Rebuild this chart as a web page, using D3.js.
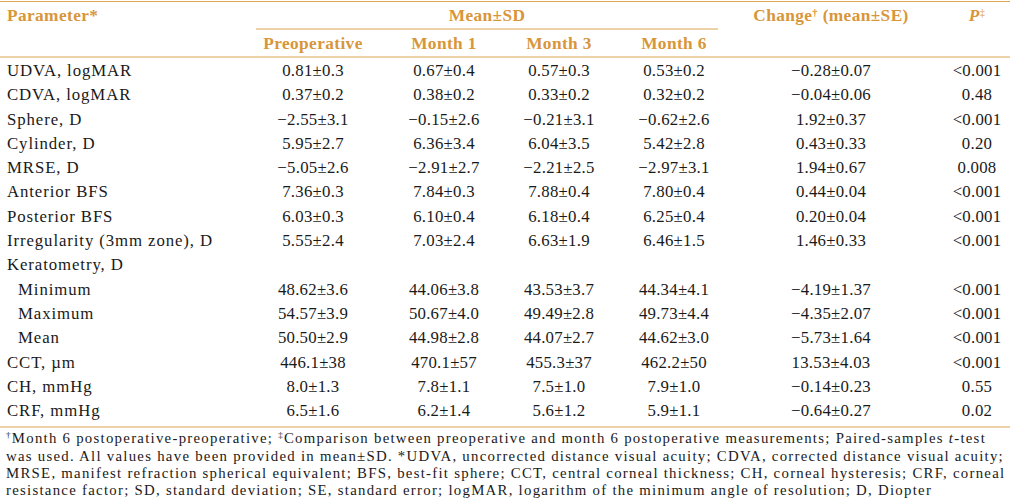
<!DOCTYPE html>
<html>
<head>
<meta charset="utf-8">
<script src="https://cdn.jsdelivr.net/npm/d3@7"></script>
<style>
  html, body { margin: 0; padding: 0; background: #ffffff; }
  svg { display: block; }
  text { font-family: "Liberation Serif", "Times New Roman", serif; }
</style>
</head>
<body>
<div id="chart"></div>
<script>
// ---- data ----
const parameters = ["UDVA, logMAR", "CDVA, logMAR", "Sphere, D", "Cylinder, D", "MRSE, D",
  "Anterior BFS", "Posterior BFS", "Irregularity (3mm zone), D", "Keratometry, D",
  "Minimum", "Maximum", "Mean", "CCT, µm", "CH, mmHg", "CRF, mmHg"];
const indented = [false, false, false, false, false, false, false, false, false,
  true, true, true, false, false, false];
const preoperative = ["0.81±0.3", "0.37±0.2", "−2.55±3.1", "5.95±2.7", "−5.05±2.6",
  "7.36±0.3", "6.03±0.3", "5.55±2.4", "", "48.62±3.6", "54.57±3.9", "50.50±2.9",
  "446.1±38", "8.0±1.3", "6.5±1.6"];
const month1 = ["0.67±0.4", "0.38±0.2", "−0.15±2.6", "6.36±3.4", "−2.91±2.7",
  "7.84±0.3", "6.10±0.4", "7.03±2.4", "", "44.06±3.8", "50.67±4.0", "44.98±2.8",
  "470.1±57", "7.8±1.1", "6.2±1.4"];
const month3 = ["0.57±0.3", "0.33±0.2", "−0.21±3.1", "6.04±3.5", "−2.21±2.5",
  "7.88±0.4", "6.18±0.4", "6.63±1.9", "", "43.53±3.7", "49.49±2.8", "44.07±2.7",
  "455.3±37", "7.5±1.0", "5.6±1.2"];
const month6 = ["0.53±0.2", "0.32±0.2", "−0.62±2.6", "5.42±2.8", "−2.97±3.1",
  "7.80±0.4", "6.25±0.4", "6.46±1.5", "", "44.34±4.1", "49.73±4.4", "44.62±3.0",
  "462.2±50", "7.9±1.0", "5.9±1.1"];
const change = ["−0.28±0.07", "−0.04±0.06", "1.92±0.37", "0.43±0.33", "1.94±0.67",
  "0.44±0.04", "0.20±0.04", "1.46±0.33", "", "−4.19±1.37", "−4.35±2.07", "−5.73±1.64",
  "13.53±4.03", "−0.14±0.23", "−0.64±0.27"];
const pValues = ["<0.001", "0.48", "<0.001", "0.20", "0.008", "<0.001", "<0.001", "<0.001",
  "", "<0.001", "<0.001", "<0.001", "<0.001", "0.55", "0.02"];
const columnKeys = ["preop", "m1", "m3", "m6", "change", "p"];
const subHeaders = ["Preoperative", "Month 1", "Month 3", "Month 6"];
const footnotes = [
  [["†", "sup"], ["Month 6 postoperative-preoperative; ", ""], ["‡", "sup"], ["Comparison between preoperative and month 6 postoperative measurements; Paired-samples ", ""], ["t", "it"], ["-test", ""]],
  [["was used. All values have been provided in mean±SD. *UDVA, uncorrected distance visual acuity; CDVA, corrected distance visual acuity;", ""]],
  [["MRSE, manifest refraction spherical equivalent; BFS, best-fit sphere; CCT, central corneal thickness; CH, corneal hysteresis; CRF, corneal", ""]],
  [["resistance factor; SD, standard deviation; SE, standard error; logMAR, logarithm of the minimum angle of resolution; D, Diopter", ""]]
];

// ---- layout ----
const W = 1010, H = 504;
const gold = "#D8963A", lineGold = "#DDA650", ink = "#1a1a1a";
const svg = d3.select("#chart").append("svg").attr("width", W).attr("height", H);

const colX = d3.scaleOrdinal().domain(columnKeys).range([313, 444, 559, 674, 831, 977]);
const rowY = d3.scaleLinear().domain([0, parameters.length - 1]).range([70, 410.5]);
const footY = d3.scaleLinear().domain([0, footnotes.length - 1]).range([438, 490]);
const bodySize = 16.8, headSize = 17.3;

// rules
const rules = [
  {x1: 0, x2: W, y: 1.5, w: 1.2},
  {x1: 256, x2: 718, y: 29, w: 1.2},
  {x1: 0, x2: W, y: 57, w: 1.2},
  {x1: 0, x2: W, y: 427, w: 1.2}
];
svg.selectAll("line.rule").data(rules).join("line").attr("class", "rule")
  .attr("x1", d => d.x1).attr("x2", d => d.x2).attr("y1", d => d.y).attr("y2", d => d.y)
  .attr("stroke", lineGold).attr("stroke-width", d => d.w);

// header
const hdr = svg.append("g").attr("font-weight", "bold").attr("fill", gold)
  .attr("font-size", headSize).attr("letter-spacing", 0.4);
hdr.append("text").attr("x", 7).attr("y", 15).attr("dy", "0.35em").text("Parameter*");
hdr.append("text").attr("x", 487).attr("y", 15).attr("dy", "0.35em").attr("text-anchor", "middle").text("Mean±SD");
const ch = hdr.append("text").attr("x", colX("change")).attr("y", 15).attr("dy", "0.35em").attr("text-anchor", "middle");
ch.append("tspan").text("Change");
ch.append("tspan").attr("font-size", headSize * 0.6).attr("baseline-shift", "super").text("†");
ch.append("tspan").text(" (mean±SE)");
const ph = hdr.append("text").attr("x", colX("p")).attr("y", 15).attr("dy", "0.35em").attr("text-anchor", "middle");
ph.append("tspan").attr("font-style", "italic").text("P");
ph.append("tspan").attr("font-size", headSize * 0.6).attr("baseline-shift", "super").attr("font-weight", "normal").text("‡");
hdr.selectAll("text.sub").data(subHeaders).join("text").attr("class", "sub")
  .attr("x", (d, i) => colX(columnKeys[i])).attr("y", 43).attr("dy", "0.35em")
  .attr("text-anchor", "middle").text(d => d);

// body
const rows = parameters.map((p, i) => ({
  label: p, indent: indented[i],
  cells: [preoperative[i], month1[i], month3[i], month6[i], change[i], pValues[i]]
}));
const body = svg.append("g").attr("fill", ink).attr("font-size", bodySize).attr("letter-spacing", 0.25);
const rg = body.selectAll("g.row").data(rows).join("g").attr("class", "row")
  .attr("transform", (d, i) => `translate(0,${rowY(i)})`);
rg.append("text").attr("x", d => d.indent ? 18 : 7).attr("dy", "0.35em")
  .attr("letter-spacing", 0.9).text(d => d.label);
rg.selectAll("text.cell").data(d => d.cells).join("text").attr("class", "cell")
  .attr("x", (d, j) => colX(columnKeys[j])).attr("dy", "0.35em")
  .attr("text-anchor", "middle").text(d => d);

// footnotes
const fnSize = 14.8;
const fn = svg.append("g").attr("fill", ink).attr("font-size", fnSize);
const ft = fn.selectAll("text").data(footnotes).join("text")
  .attr("x", 6).attr("y", (d, i) => footY(i)).attr("dy", "0.35em");
ft.selectAll("tspan").data(d => d).join("tspan")
  .attr("font-style", d => d[1] === "it" ? "italic" : null)
  .attr("font-size", d => d[1] === "sup" ? 9 : null)
  .attr("baseline-shift", d => d[1] === "sup" ? "super" : null)
  .text(d => d[0]);
// widen footnote tracking so line 2 spans the reference width
const target = 998;
const line2 = ft.filter((d, i) => i === 1);
const len = line2.node().getComputedTextLength();
const nChars = footnotes[1][0][0].length;
fn.attr("letter-spacing", (target - len) / nChars);
</script>
</body>
</html>
